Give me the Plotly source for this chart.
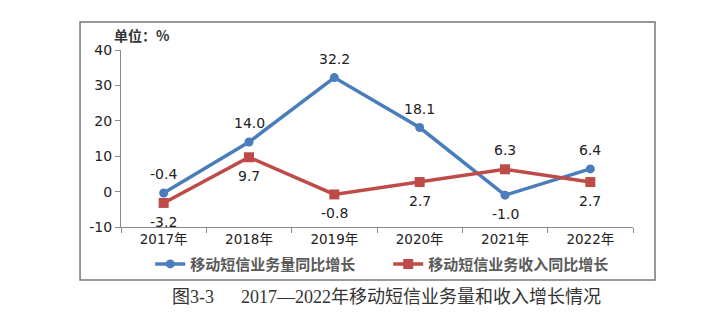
import plotly.graph_objects as go

years = ["2017年", "2018年", "2019年", "2020年", "2021年", "2022年"]
volume_growth = [-0.4, 14.0, 32.2, 18.1, -1.0, 6.4]
revenue_growth = [-3.2, 9.7, -0.8, 2.7, 6.3, 2.7]
volume_above = [True, True, True, True, False, True]
revenue_above = [False, False, False, False, True, False]
y_ticks = [-10, 0, 10, 20, 30, 40]

blue = "#4A7EBB"
red = "#BE4B48"
lab_font = dict(family="DejaVu Sans", size=14, color="#222222")

fig = go.Figure()
fig.add_trace(go.Scatter(
    x=years, y=volume_growth, name="移动短信业务量同比增长",
    mode="lines+markers",
    line=dict(color=blue, width=3.5), marker=dict(symbol="circle", size=9, color=blue),
))
fig.add_trace(go.Scatter(
    x=years, y=revenue_growth, name="移动短信业务收入同比增长",
    mode="lines+markers",
    line=dict(color=red, width=3.5), marker=dict(symbol="square", size=10, color=red),
))

for series, above in ((volume_growth, volume_above), (revenue_growth, revenue_above)):
    for xv, yv, ab in zip(years, series, above):
        fig.add_annotation(x=xv, y=yv, text=f"{yv:.1f}", showarrow=False,
                           yshift=19 if ab else -19, xanchor="center", yanchor="middle",
                           font=lab_font)

fig.update_layout(
    width=724, height=322,
    margin=dict(l=121, r=91, t=50, b=95),
    paper_bgcolor="white", plot_bgcolor="white",
    font=dict(family="DejaVu Sans, Noto Sans CJK SC", size=13, color="#222222"),
    showlegend=True,
    legend=dict(orientation="h", x=0.057, xanchor="left", y=-0.21, yanchor="middle",
                font=dict(family="Noto Sans CJK SC", size=15, color="#5a5a5a", weight="bold"),
                entrywidth=193, entrywidthmode="pixels", tracegroupgap=0,
                bgcolor="rgba(0,0,0,0)"),
    xaxis=dict(type="category", showgrid=False, showline=True, linecolor="#888888", linewidth=1,
               ticks="outside", tickson="boundaries", ticklen=5, tickcolor="#888888",
               tickfont=dict(family="DejaVu Sans, Noto Sans CJK SC", size=13.5), zeroline=False,
               range=[-0.5, 5.5]),
    yaxis=dict(range=[-10, 40], tickvals=y_ticks, ticktext=[str(v) for v in y_ticks],
               showgrid=False, showline=True,
               linecolor="#888888", linewidth=1, ticks="outside", ticklen=5, tickcolor="#888888",
               zeroline=False, tickfont=dict(family="DejaVu Sans", size=14)),
)

# outer frame
fig.add_shape(type="rect", xref="paper", yref="paper", x0=-0.080, x1=1.043, y0=-0.299, y1=1.158,
              line=dict(color="#777777", width=1.5), fillcolor="rgba(0,0,0,0)", layer="below")

fig.add_annotation(text="<b>单位：%</b>", xref="paper", yref="paper", x=-0.018, y=1.085,
                   xanchor="left", yanchor="middle", showarrow=False,
                   font=dict(family="Noto Sans CJK SC", size=14, color="#333333"))
fig.add_annotation(text="图3-3\u3000\u20022017—2022年移动短信业务量和收入增长情况", xref="paper", yref="paper",
                   x=0.518, y=-0.395, xanchor="center", yanchor="middle", showarrow=False,
                   font=dict(family="Liberation Serif, Noto Sans CJK SC", size=18, color="#333333"))

fig.write_html("out.html")
